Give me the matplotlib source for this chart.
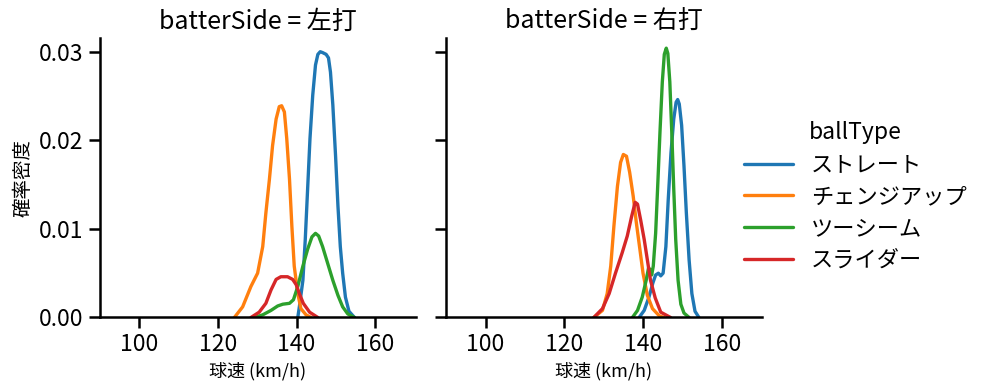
import matplotlib
matplotlib.use("Agg")
import matplotlib.pyplot as plt

plt.rcParams['font.family'] = ['Noto Sans CJK JP', 'DejaVu Sans']

sides = ['左打', '右打']
ball_types = ['ストレート', 'チェンジアップ', 'ツーシーム', 'スライダー']
colors = ['#1f77b4', '#ff7f0e', '#2ca02c', '#d62728']

# density curves: (speed km/h, density)
left_straight_x = [140.3, 140.7, 141.6, 142.2, 142.8, 143.4, 144.1, 144.8, 145.4, 146.0, 146.6, 147.5, 148.1, 148.6, 149.2, 149.9, 150.5, 151.1, 151.7, 152.4, 153.3, 154.7]
left_straight_y = [0.0, 0.0012, 0.0042, 0.0088, 0.0145, 0.0202, 0.0251, 0.0285, 0.0297, 0.0300, 0.0299, 0.0297, 0.0293, 0.0277, 0.0240, 0.0182, 0.0126, 0.0080, 0.0050, 0.0023, 0.0007, 0.0]
left_change_x = [124.2, 126.3, 128.4, 130.1, 131.4, 132.2, 133.1, 133.9, 134.8, 135.6, 136.2, 136.9, 137.5, 138.2, 138.8, 139.4, 140.3, 141.1, 142.4, 143.7]
left_change_y = [0.0, 0.0012, 0.0035, 0.0050, 0.0080, 0.0118, 0.0156, 0.0194, 0.0224, 0.0238, 0.0239, 0.0232, 0.0202, 0.0156, 0.0103, 0.0058, 0.0027, 0.0010, 0.0003, 0.0]
left_two_x = [129.3, 131.4, 133.5, 135.2, 136.5, 138.2, 139.2, 140.3, 141.6, 142.8, 143.9, 144.8, 145.6, 146.6, 147.9, 149.2, 150.5, 151.7, 153.0, 154.7]
left_two_y = [0.0, 0.0003, 0.0008, 0.0013, 0.0015, 0.0016, 0.0020, 0.0035, 0.0058, 0.0077, 0.0091, 0.0095, 0.0092, 0.0080, 0.0061, 0.0042, 0.0025, 0.0012, 0.0004, 0.0]
left_slider_x = [128.4, 130.5, 132.2, 133.5, 134.8, 136.0, 137.7, 139.0, 139.9, 140.7, 141.7, 143.3, 145.4]
left_slider_y = [0.0, 0.0006, 0.0016, 0.0031, 0.0043, 0.0046, 0.0046, 0.0043, 0.0037, 0.0027, 0.0016, 0.0006, 0.0]

right_straight_x = [139.0, 140.3, 141.5, 142.5, 143.2, 143.9, 144.5, 145.1, 145.8, 146.4, 147.1, 147.8, 148.4, 148.8, 149.2, 149.8, 150.4, 151.0, 151.7, 152.4, 153.2, 154.2]
right_straight_y = [0.0, 0.0008, 0.0023, 0.0039, 0.0048, 0.0050, 0.0047, 0.0050, 0.0080, 0.0133, 0.0186, 0.0224, 0.0243, 0.0246, 0.0241, 0.0217, 0.0171, 0.0118, 0.0065, 0.0027, 0.0007, 0.0]
right_change_x = [127.5, 129.7, 130.9, 131.8, 132.6, 133.5, 134.3, 135.0, 135.8, 136.6, 137.5, 138.3, 139.2, 140.0, 141.1, 142.4, 144.1, 145.3]
right_change_y = [0.0, 0.0008, 0.0027, 0.0058, 0.0103, 0.0148, 0.0175, 0.0184, 0.0182, 0.0164, 0.0137, 0.0107, 0.0077, 0.0050, 0.0025, 0.0010, 0.0002, 0.0]
right_two_x = [137.3, 138.6, 139.8, 140.8, 141.4, 141.8, 142.2, 142.6, 143.2, 143.8, 144.3, 144.9, 145.4, 145.9, 146.3, 146.8, 147.3, 147.8, 148.3, 148.9, 149.6, 150.4, 151.7]
right_two_y = [0.0, 0.0008, 0.0023, 0.0042, 0.0056, 0.0054, 0.0048, 0.0058, 0.0095, 0.0156, 0.0209, 0.0266, 0.0297, 0.0304, 0.0298, 0.0266, 0.0209, 0.0145, 0.0088, 0.0042, 0.0015, 0.0005, 0.0]
right_slider_x = [127.5, 129.7, 131.4, 133.0, 134.7, 136.0, 137.1, 138.0, 138.6, 139.4, 140.3, 141.1, 141.9, 143.1, 144.5, 147.0]
right_slider_y = [0.0, 0.0010, 0.0027, 0.0050, 0.0073, 0.0092, 0.0114, 0.0130, 0.0128, 0.0110, 0.0088, 0.0065, 0.0042, 0.0022, 0.0006, 0.0]

curves = {
    '左打': [(left_straight_x, left_straight_y), (left_change_x, left_change_y),
             (left_two_x, left_two_y), (left_slider_x, left_slider_y)],
    '右打': [(right_straight_x, right_straight_y), (right_change_x, right_change_y),
             (right_two_x, right_two_y), (right_slider_x, right_slider_y)],
}

xticks = [100, 120, 140, 160]
yticks = [0.00, 0.01, 0.02, 0.03]

fig = plt.figure(figsize=(9.87, 3.91), dpi=100)
ax1 = fig.add_axes([0.101, 0.188, 0.32, 0.716])
ax2 = fig.add_axes([0.452, 0.188, 0.32, 0.716], sharey=ax1)

for ax, side in zip([ax1, ax2], sides):
    for (xs, ys), c, name in zip(curves[side], colors, ball_types):
        ax.plot(xs, ys, color=c, lw=2.4, label=name,
                solid_joinstyle='round', solid_capstyle='round')
    ax.set_xlim(90, 170.2)
    ax.set_ylim(0, 0.0316)
    ax.set_xticks(xticks)
    ax.set_yticks(yticks)
    ax.spines['top'].set_visible(False)
    ax.spines['right'].set_visible(False)
    ax.spines['left'].set_linewidth(1.8)
    ax.spines['bottom'].set_linewidth(1.8)
    ax.tick_params(labelsize=16.5, width=1.8, length=8)
    ax.set_title(f'batterSide = {side}', fontsize=18)
    ax.set_xlabel('球速 (km/h)', fontsize=13)

ax1.set_yticklabels([f'{v:.2f}' for v in yticks])
ax1.set_ylabel('確率密度', fontsize=14)
plt.setp(ax2.get_yticklabels(), visible=False)

handles, labels = ax1.get_legend_handles_labels()
leg = fig.legend(handles, labels, title='ballType', loc='center left',
                 bbox_to_anchor=(0.734, 0.497), frameon=False, fontsize=16,
                 title_fontsize=16.5, handlelength=2.2, labelspacing=0.4)

fig.savefig('out.png', dpi=100)
